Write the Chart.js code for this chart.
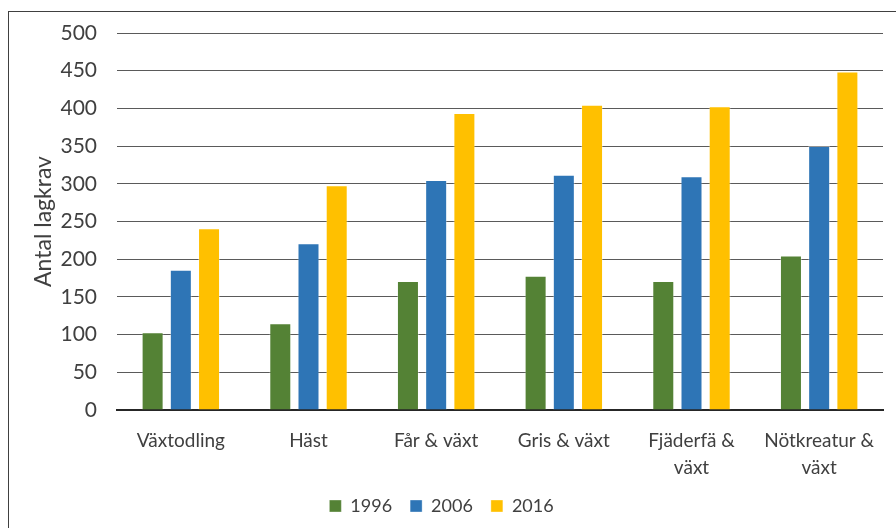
<!DOCTYPE html>
<html lang="sv">
<head>
  <meta charset="UTF-8" />
  <title>Antal lagkrav</title>
  <script src="https://cdn.jsdelivr.net/npm/chart.js"></script>
  <style>
    html, body { margin: 0; padding: 0; background: #fff; overflow: hidden; }
    #frame { position: absolute; left: 8px; top: 11px; width: 1000px; height: 1000px;
      border-left: 1px solid #404040; border-top: 1px solid #404040; }
    #wrap { position: absolute; left: 0; top: 0; width: 896px; height: 528px; }
  </style>
</head>
<body>
  <div id="frame"></div>
  <div id="wrap"><canvas id="chart"></canvas></div>

  <script>
    // data
    const categories = ['Växtodling', 'Häst', 'Får & växt', 'Gris & växt', ['Fjäderfä &', 'växt'], ['Nötkreatur &', 'växt']];
    const years = ['1996', '2006', '2016'];
    const values1996 = [103, 115, 171, 178, 171, 205];
    const values2006 = [186, 221, 305, 312, 310, 350];
    const values2016 = [241, 298, 394, 405, 403, 449];
    const colors = ['#548235', '#2E75B6', '#FFC000'];

    const font = 'Lato, "Open Sans", sans-serif';
    const textColor = '#404040';

    new Chart(document.getElementById('chart'), {
      type: 'bar',
      data: {
        labels: categories,
        datasets: [values1996, values2006, values2016].map((v, i) => ({
          label: years[i],
          data: v,
          backgroundColor: colors[i],
          borderColor: 'rgba(255,255,255,0.35)',
          borderWidth: 1,
          categoryPercentage: 0.663,
          barPercentage: 0.78
        }))
      },
      options: {
        responsive: true,
        maintainAspectRatio: false,
        animation: false,
        layout: { padding: { top: 33, left: 0, right: 13, bottom: 3 } },
        plugins: {
          tooltip: { enabled: false },
          legend: {
            position: 'bottom',
            labels: {
              boxWidth: 12, boxHeight: 12, padding: 18,
              color: textColor,
              font: { family: font, size: 18 }
            }
          }
        },
        scales: {
          x: {
            grid: { display: false },
            border: { display: true, color: '#262626', width: 2 },
            ticks: {
              color: textColor, padding: 10, maxRotation: 0, autoSkip: false,
              font: { family: font, size: 19, lineHeight: 1.4 }
            },
            afterFit: s => { s.height = 69; }
          },
          y: {
            min: 0, max: 500,
            border: { display: false },
            grid: { color: '#5a5a5a', lineWidth: 1, drawTicks: false },
            ticks: {
              stepSize: 50, color: textColor, padding: 20,
              font: { family: font, size: 21 }
            },
            title: {
              display: true, text: 'Antal lagkrav', color: textColor,
              padding: { top: 30, bottom: 0 },
              font: { family: font, size: 23 }
            },
            afterFit: s => { s.width = 117; }
          }
        }
      }
    });
  </script>
</body>
</html>
